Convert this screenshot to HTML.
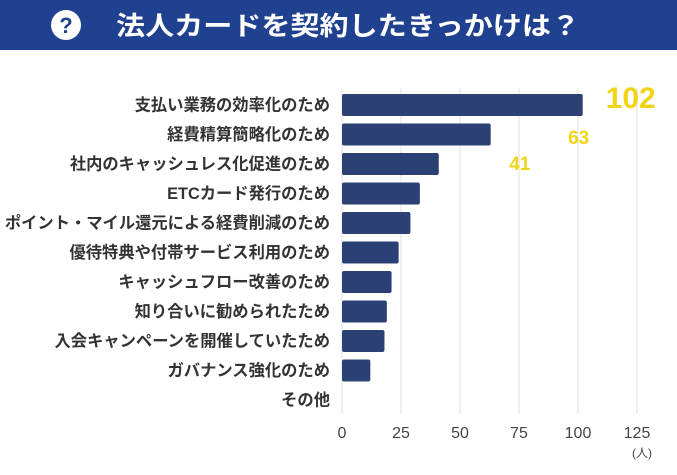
<!DOCTYPE html>
<html><head><meta charset="utf-8">
<style>
body{margin:0;width:677px;height:475px;background:#fff;overflow:hidden;font-family:"Liberation Sans","Noto Sans CJK JP",sans-serif;}
#hdr{position:absolute;left:0;top:0;width:677px;height:50px;background:#20418f;}
</style></head><body>
<div id="hdr"></div>
<svg width="677" height="475" style="position:absolute;left:0;top:0">
<circle cx="66" cy="25" r="15" fill="#fff"/>
<text x="66" y="33" text-anchor="middle" font-size="22" font-weight="bold" fill="#20418f" font-family="Liberation Sans, sans-serif">?</text>
<text x="116" y="35" textLength="464" lengthAdjust="spacingAndGlyphs" font-size="26" font-weight="bold" fill="#fff" font-family="Liberation Sans, Noto Sans CJK JP, sans-serif">法人カードを契約したきっかけは？</text>
<g id="plot"></g>
</svg>
<script>
const categories=["支払い業務の効率化のため","経費精算簡略化のため","社内のキャッシュレス化促進のため","ETCカード発行のため","ポイント・マイル還元による経費削減のため","優待特典や付帯サービス利用のため","キャッシュフロー改善のため","知り合いに勧められたため","入会キャンペーンを開催していたため","ガバナンス強化のため","その他"];
const values=[102,63,41,33,29,24,21,19,18,12,0];
const ticks=[0,25,50,75,100,125];
const x0=342,scale=(637-342)/125;
const xs=v=>x0+v*scale;
const ys=i=>105+i*29.5;
const g=document.getElementById('plot');
const NS='http://www.w3.org/2000/svg';
function mk(t,a){const e=document.createElementNS(NS,t);for(const k in a)e.setAttribute(k,a[k]);g.appendChild(e);return e;}
ticks.forEach(t=>{
 const l=mk('line',{x1:xs(t),x2:xs(t),y1:88,y2:414,stroke:'#e0e0e0','stroke-width':1});
 
 
 const tx=mk('text',{x:xs(t),y:438,'text-anchor':'middle','font-size':16,fill:'#444'});
 tx.textContent=t;
 
 
});
categories.forEach((c,i)=>{
 const y=ys(i);
 const lb=mk('text',{x:330,y:y+5.5,'text-anchor':'end','font-size':16.3,'font-weight':'bold',fill:'#333'});
 lb.textContent=c;
 
 
 if(values[i]>0){
  const r=mk('rect',{x:x0,y:y-11,width:xs(values[i])-x0,height:22,rx:2,fill:'#2b4175'});
  
  
 }
});
const lbls=[[0,30,108,48],[1,19,144,88],[2,19,170,81]];
lbls.forEach(([i,fs,yy,dx])=>{
 const t=mk('text',{x:xs(values[i])+dx,y:yy,'text-anchor':'middle','font-size':fs,'font-weight':'bold',fill:'#f2d417'});
 t.textContent=values[i];
 
 
});
const u=mk('text',{x:642,y:457,'text-anchor':'middle','font-size':12,fill:'#444'});
u.textContent='(人)';


</script>
</body></html>
